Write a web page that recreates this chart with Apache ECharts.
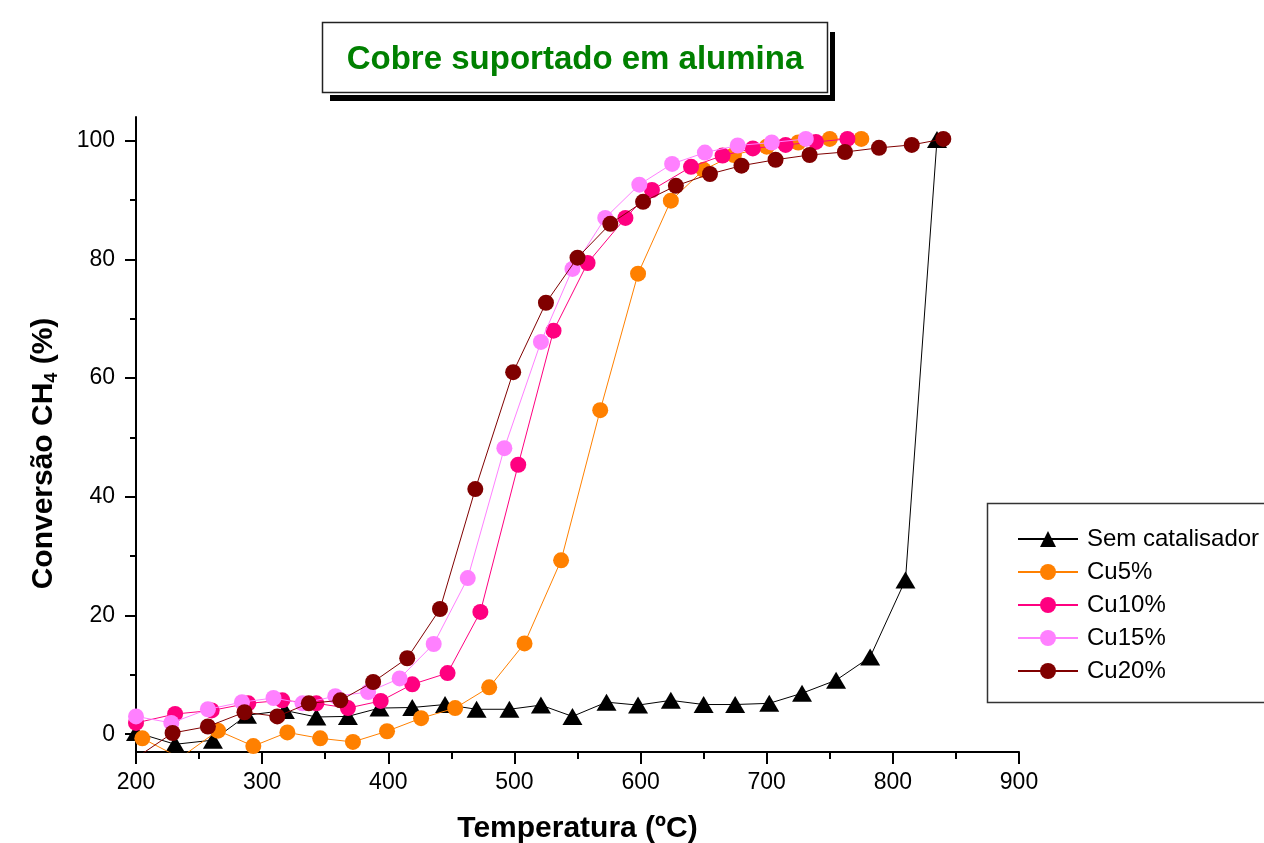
<!DOCTYPE html>
<html><head><meta charset="utf-8">
<script src="https://cdn.jsdelivr.net/npm/echarts@6/dist/echarts.min.js"></script>
<style>html,body{margin:0;padding:0;background:#fff}#c{width:1264px;height:843px}</style>
</head><body><div id="c"></div>
<script>
const FONT = '"Liberation Sans", Arial, sans-serif';
const xTickValues = [200, 300, 400, 500, 600, 700, 800, 900];
const yTickValues = [0, 20, 40, 60, 80, 100];
const yMinorValues = [10, 30, 50, 70, 90];

const semTemp = [200, 231, 261, 288, 318, 343, 368, 393, 419, 445, 470, 496, 521, 546, 573, 598, 624, 650, 675, 702, 728, 755, 782, 810, 835];
const semConv = [0.3, -1.7, -1.0, 3.2, 4.0, 2.9, 3.0, 4.4, 4.5, 5.0, 4.2, 4.2, 4.9, 3.0, 5.4, 4.9, 5.7, 5.0, 5.0, 5.2, 6.9, 9.1, 13.0, 26.0, 100.2];

const cu5Temp = [205, 235, 265, 293, 320, 346, 372, 399, 426, 453, 480, 508, 537, 568, 598, 624, 650, 674, 700, 725, 750, 775];
const cu5Conv = [-0.7, -4.0, 0.6, -2.0, 0.3, -0.7, -1.3, 0.5, 2.7, 4.4, 7.9, 15.3, 29.3, 54.6, 77.6, 89.9, 95.1, 97.6, 99.0, 99.7, 100.3, 100.3];

const cu10Temp = [200, 231, 260, 289, 316, 343, 368, 394, 419, 447, 473, 503, 531, 558, 588, 609, 640, 665, 689, 715, 739, 764];
const cu10Conv = [1.9, 3.4, 4.0, 5.2, 5.7, 5.2, 4.4, 5.6, 8.4, 10.3, 20.6, 45.4, 68.0, 79.4, 87.0, 91.7, 95.6, 97.5, 98.7, 99.3, 99.8, 100.3];

const cu15Temp = [200, 228, 257, 284, 309, 332, 358, 384, 409, 436, 463, 492, 521, 546, 572, 599, 625, 651, 677, 704, 731];
const cu15Conv = [3.0, 1.9, 4.2, 5.4, 6.1, 5.2, 6.4, 7.1, 9.4, 15.2, 26.3, 48.2, 66.1, 78.4, 87.0, 92.6, 96.1, 98.0, 99.2, 99.7, 100.3];

const cu20Temp = [200, 229, 257, 286, 312, 337, 362, 388, 415, 441, 469, 499, 525, 550, 576, 602, 628, 655, 680, 707, 734, 762, 789, 815, 840];
const cu20Conv = [-4.0, 0.2, 1.3, 3.7, 3.0, 5.2, 5.7, 8.8, 12.8, 21.1, 41.3, 61.0, 72.7, 80.3, 86.0, 89.7, 92.4, 94.4, 95.8, 96.8, 97.6, 98.1, 98.8, 99.3, 100.3];

const seriesNames = ['Sem catalisador', 'Cu5%', 'Cu10%', 'Cu15%', 'Cu20%'];
const seriesColors = ['#000000', '#FF8000', '#FF0080', '#FF80FF', '#800000'];

function zip(a, b) { return a.map((v, i) => [v, b[i]]); }

const seriesData = [zip(semTemp, semConv), zip(cu5Temp, cu5Conv), zip(cu10Temp, cu10Conv), zip(cu15Temp, cu15Conv), zip(cu20Temp, cu20Conv)];

const chart = echarts.init(document.getElementById('c'));
chart.setOption({
  animation: false,
  backgroundColor: '#fff',
  textStyle: { fontFamily: FONT },
  grid: { left: 136, right: 245, top: 117, bottom: 91, containLabel: false, outerBoundsMode: 'none' },
  xAxis: {
    type: 'value', min: 200, max: 900, interval: 100,
    axisLine: { show: true, onZero: false, lineStyle: { color: '#000', width: 2 } },
    axisTick: { show: true, length: 12, lineStyle: { color: '#000', width: 2 } },
    minorTick: { show: true, splitNumber: 2, length: 7, lineStyle: { color: '#000', width: 2 } },
    axisLabel: { fontSize: 23, color: '#000', margin: 19, fontFamily: FONT, customValues: xTickValues },
    splitLine: { show: false }, minorSplitLine: { show: false },
    name: 'Temperatura (ºC)', nameLocation: 'middle', nameGap: 62,
    nameTextStyle: { fontSize: 30, fontWeight: 'bold', color: '#000', fontFamily: FONT }
  },
  yAxis: [{
    type: 'value', min: -3, max: 104,
    axisLine: { show: true, onZero: false, lineStyle: { color: '#000', width: 2 } },
    axisTick: { show: true, length: 11, customValues: yTickValues, lineStyle: { color: '#000', width: 2 } },
    axisLabel: { fontSize: 23, color: '#000', margin: 21, fontFamily: FONT, customValues: yTickValues },
    splitLine: { show: false },
    name: '{a|Conversão CH}{s|4}{a| (%)}', nameLocation: 'middle', nameGap: 75,
    nameTextStyle: {
      padding: [0, 38, 0, 0],
      rich: {
        a: { fontSize: 30, fontWeight: 'bold', color: '#000', fontFamily: FONT, lineHeight: 34 },
        s: { fontSize: 18, fontWeight: 'bold', color: '#000', fontFamily: FONT, verticalAlign: 'bottom', lineHeight: 20 }
      }
    }
  }, {
    type: 'value', min: -3, max: 104, position: 'left',
    axisLine: { show: false },
    axisTick: { show: true, length: 6, customValues: yMinorValues, lineStyle: { color: '#000', width: 2 } },
    axisLabel: { show: false },
    splitLine: { show: false }
  }],
  legend: {
    orient: 'vertical', left: 1012, top: 522,
    itemWidth: 60, itemHeight: 20, itemGap: 9,
    textStyle: { fontSize: 24, color: '#000', fontFamily: FONT, padding: [0, 0, 0, 4] },
    data: seriesNames
  },
  graphic: [
    { type: 'rect', z: 0, shape: { x: 330, y: 32, width: 505, height: 69 }, style: { fill: '#000' } },
    { type: 'rect', z: 1, shape: { x: 319, y: 19, width: 511, height: 76 }, style: { fill: '#fff' } },
    { type: 'rect', z: 2, shape: { x: 322.5, y: 22.5, width: 505, height: 70 }, style: { fill: '#fff', stroke: '#222', lineWidth: 1.5 } },
    { type: 'text', z: 3, x: 575, y: 60, style: { text: 'Cobre suportado em alumina', fill: '#008000', fontSize: 33, fontWeight: 'bold', fontFamily: FONT, align: 'center', verticalAlign: 'middle' } },
    { type: 'rect', z: 0, shape: { x: 987.5, y: 503.5, width: 300, height: 199 }, style: { fill: '#fff', stroke: '#333', lineWidth: 1.5 } }
  ],
  series: seriesData.map((d, i) => ({
    name: seriesNames[i], type: 'line', data: d, clip: true,
    symbol: i === 0 ? 'triangle' : 'circle',
    symbolSize: i === 0 ? [20, 17] : 16,
    showAllSymbol: true,
    itemStyle: { color: seriesColors[i] },
    lineStyle: { color: seriesColors[i], width: 1 },
    emphasis: { disabled: true },
    z: 2 + i
  }))
});
</script>
</body></html>
